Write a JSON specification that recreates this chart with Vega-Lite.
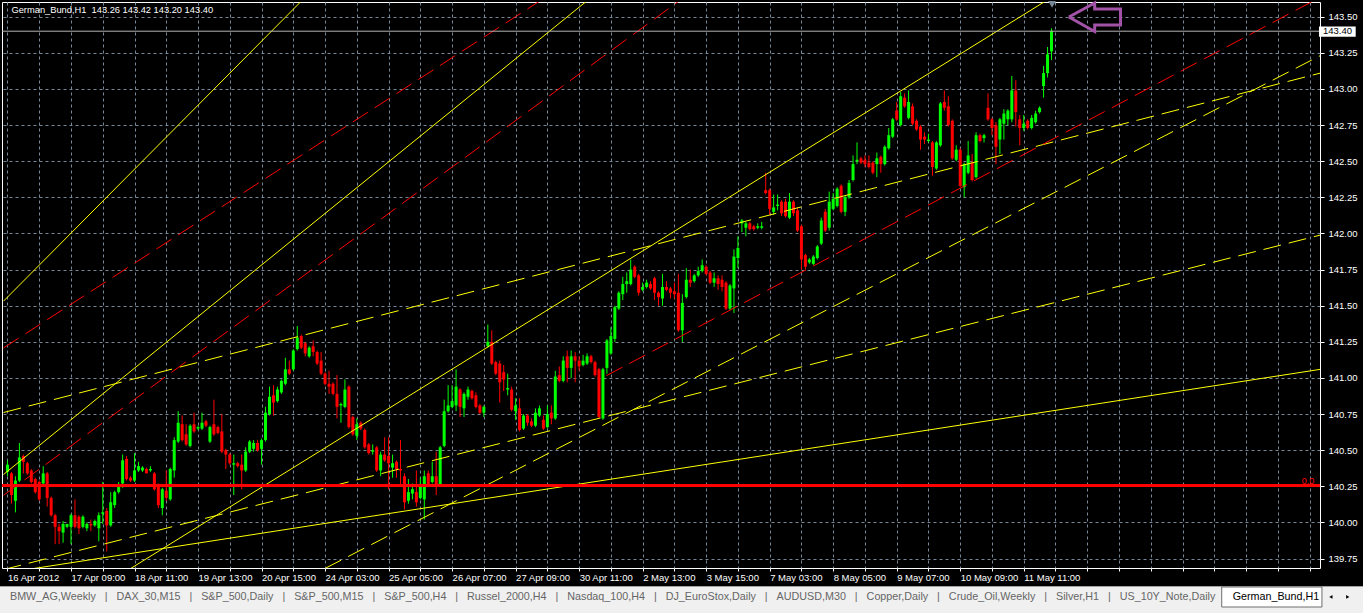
{
  "$schema": "https://vega.github.io/schema/vega-lite/v6.json",
  "autosize": "none",
  "width": 1318,
  "height": 566,
  "padding": {"left": 2, "top": 2, "right": 43, "bottom": 45},
  "background": "#000000",
  "config": {
    "font": "Liberation Sans",
    "view": {"stroke": "#ffffff", "strokeWidth": 1, "fill": "#000000"}
  },
  "resolve": {"axis": {"x": "independent", "y": "independent"}},
  "data": {"values": [{}]},
  "datasets": {
    "bars": [
      {"i":0,"o":140.35,"h":140.43,"l":140.32,"c":140.40},
      {"i":1,"o":140.34,"h":140.35,"l":140.13,"c":140.19},
      {"i":2,"o":140.15,"h":140.32,"l":140.07,"c":140.29},
      {"i":3,"o":140.29,"h":140.55,"l":140.28,"c":140.45},
      {"i":4,"o":140.46,"h":140.47,"l":140.34,"c":140.42},
      {"i":5,"o":140.41,"h":140.42,"l":140.33,"c":140.34},
      {"i":6,"o":140.36,"h":140.37,"l":140.27,"c":140.28},
      {"i":7,"o":140.30,"h":140.31,"l":140.20,"c":140.21},
      {"i":8,"o":140.28,"h":140.29,"l":140.15,"c":140.16},
      {"i":9,"o":140.27,"h":140.39,"l":140.26,"c":140.34},
      {"i":10,"o":140.34,"h":140.35,"l":140.11,"c":140.17},
      {"i":11,"o":140.17,"h":140.18,"l":140.04,"c":140.05},
      {"i":12,"o":140.05,"h":140.06,"l":139.85,"c":139.97},
      {"i":13,"o":139.97,"h":139.99,"l":139.85,"c":139.94},
      {"i":14,"o":139.93,"h":140.01,"l":139.86,"c":139.99},
      {"i":15,"o":139.97,"h":139.99,"l":139.96,"c":139.99},
      {"i":16,"o":139.97,"h":140.06,"l":139.85,"c":140.05},
      {"i":17,"o":140.05,"h":140.16,"l":139.96,"c":139.97},
      {"i":18,"o":140.04,"h":140.05,"l":139.92,"c":139.96},
      {"i":19,"o":139.97,"h":140.05,"l":139.96,"c":140.04},
      {"i":20,"o":139.96,"h":140.00,"l":139.94,"c":139.99},
      {"i":21,"o":139.99,"h":140.02,"l":139.94,"c":139.98},
      {"i":22,"o":139.98,"h":140.02,"l":139.97,"c":140.01},
      {"i":23,"o":139.96,"h":140.07,"l":139.87,"c":140.05},
      {"i":24,"o":140.06,"h":140.28,"l":139.99,"c":140.07},
      {"i":25,"o":140.08,"h":140.10,"l":139.80,"c":139.98},
      {"i":26,"o":139.98,"h":140.21,"l":139.97,"c":140.14},
      {"i":27,"o":140.12,"h":140.22,"l":140.10,"c":140.21},
      {"i":28,"o":140.21,"h":140.28,"l":140.20,"c":140.26},
      {"i":29,"o":140.27,"h":140.47,"l":140.24,"c":140.43},
      {"i":30,"o":140.44,"h":140.46,"l":140.29,"c":140.30},
      {"i":31,"o":140.31,"h":140.32,"l":140.28,"c":140.29},
      {"i":32,"o":140.29,"h":140.48,"l":140.28,"c":140.36},
      {"i":33,"o":140.36,"h":140.42,"l":140.35,"c":140.39},
      {"i":34,"o":140.36,"h":140.39,"l":140.35,"c":140.38},
      {"i":35,"o":140.37,"h":140.38,"l":140.34,"c":140.34},
      {"i":36,"o":140.36,"h":140.39,"l":140.35,"c":140.37},
      {"i":37,"o":140.34,"h":140.35,"l":140.22,"c":140.23},
      {"i":38,"o":140.25,"h":140.27,"l":140.10,"c":140.12},
      {"i":39,"o":140.10,"h":140.24,"l":140.05,"c":140.23},
      {"i":40,"o":140.22,"h":140.36,"l":140.15,"c":140.17},
      {"i":41,"o":140.16,"h":140.38,"l":140.15,"c":140.37},
      {"i":42,"o":140.36,"h":140.59,"l":140.31,"c":140.57},
      {"i":43,"o":140.56,"h":140.77,"l":140.55,"c":140.69},
      {"i":44,"o":140.68,"h":140.74,"l":140.56,"c":140.57},
      {"i":45,"o":140.61,"h":140.68,"l":140.53,"c":140.54},
      {"i":46,"o":140.53,"h":140.68,"l":140.52,"c":140.67},
      {"i":47,"o":140.68,"h":140.76,"l":140.62,"c":140.63},
      {"i":48,"o":140.65,"h":140.67,"l":140.64,"c":140.66},
      {"i":49,"o":140.65,"h":140.76,"l":140.64,"c":140.69},
      {"i":50,"o":140.70,"h":140.71,"l":140.66,"c":140.67},
      {"i":51,"o":140.56,"h":140.67,"l":140.55,"c":140.66},
      {"i":52,"o":140.68,"h":140.85,"l":140.60,"c":140.61},
      {"i":53,"o":140.66,"h":140.67,"l":140.61,"c":140.62},
      {"i":54,"o":140.63,"h":140.75,"l":140.48,"c":140.49},
      {"i":55,"o":140.50,"h":140.51,"l":140.37,"c":140.47},
      {"i":56,"o":140.47,"h":140.48,"l":140.40,"c":140.41},
      {"i":57,"o":140.40,"h":140.47,"l":140.19,"c":140.41},
      {"i":58,"o":140.41,"h":140.42,"l":140.38,"c":140.39},
      {"i":59,"o":140.40,"h":140.47,"l":140.23,"c":140.36},
      {"i":60,"o":140.36,"h":140.52,"l":140.35,"c":140.49},
      {"i":61,"o":140.49,"h":140.57,"l":140.48,"c":140.56},
      {"i":62,"o":140.51,"h":140.57,"l":140.49,"c":140.55},
      {"i":63,"o":140.55,"h":140.57,"l":140.49,"c":140.50},
      {"i":64,"o":140.51,"h":140.58,"l":140.40,"c":140.57},
      {"i":65,"o":140.57,"h":140.80,"l":140.56,"c":140.76},
      {"i":66,"o":140.75,"h":140.94,"l":140.74,"c":140.87},
      {"i":67,"o":140.88,"h":140.95,"l":140.74,"c":140.83},
      {"i":68,"o":140.84,"h":140.94,"l":140.83,"c":140.92},
      {"i":69,"o":140.90,"h":140.99,"l":140.89,"c":140.98},
      {"i":70,"o":140.96,"h":141.14,"l":140.95,"c":141.06},
      {"i":71,"o":141.06,"h":141.12,"l":141.02,"c":141.03},
      {"i":72,"o":141.06,"h":141.20,"l":141.05,"c":141.19},
      {"i":73,"o":141.20,"h":141.36,"l":141.19,"c":141.28},
      {"i":74,"o":141.29,"h":141.30,"l":141.20,"c":141.21},
      {"i":75,"o":141.24,"h":141.25,"l":141.15,"c":141.17},
      {"i":76,"o":141.15,"h":141.22,"l":141.14,"c":141.21},
      {"i":77,"o":141.22,"h":141.26,"l":141.15,"c":141.18},
      {"i":78,"o":141.18,"h":141.19,"l":141.09,"c":141.10},
      {"i":79,"o":141.12,"h":141.18,"l":141.02,"c":141.03},
      {"i":80,"o":141.03,"h":141.04,"l":140.95,"c":140.96},
      {"i":81,"o":140.96,"h":141.05,"l":140.89,"c":140.94},
      {"i":82,"o":140.96,"h":140.97,"l":140.88,"c":140.89},
      {"i":83,"o":140.89,"h":141.02,"l":140.72,"c":140.80},
      {"i":84,"o":140.81,"h":140.83,"l":140.69,"c":140.82},
      {"i":85,"o":140.80,"h":140.99,"l":140.79,"c":140.92},
      {"i":86,"o":140.94,"h":140.95,"l":140.65,"c":140.66},
      {"i":87,"o":140.73,"h":140.74,"l":140.60,"c":140.61},
      {"i":88,"o":140.60,"h":140.72,"l":140.57,"c":140.68},
      {"i":89,"o":140.69,"h":140.70,"l":140.64,"c":140.65},
      {"i":90,"o":140.64,"h":140.65,"l":140.51,"c":140.52},
      {"i":91,"o":140.54,"h":140.55,"l":140.47,"c":140.48},
      {"i":92,"o":140.49,"h":140.54,"l":140.47,"c":140.50},
      {"i":93,"o":140.52,"h":140.53,"l":140.35,"c":140.36},
      {"i":94,"o":140.36,"h":140.49,"l":140.32,"c":140.47},
      {"i":95,"o":140.47,"h":140.59,"l":140.42,"c":140.43},
      {"i":96,"o":140.46,"h":140.59,"l":140.23,"c":140.41},
      {"i":97,"o":140.38,"h":140.47,"l":140.31,"c":140.41},
      {"i":98,"o":140.42,"h":140.43,"l":140.31,"c":140.37},
      {"i":99,"o":140.37,"h":140.57,"l":140.26,"c":140.36},
      {"i":100,"o":140.32,"h":140.34,"l":140.09,"c":140.14},
      {"i":101,"o":140.15,"h":140.30,"l":140.13,"c":140.21},
      {"i":102,"o":140.20,"h":140.27,"l":140.16,"c":140.23},
      {"i":103,"o":140.21,"h":140.36,"l":140.11,"c":140.14},
      {"i":104,"o":140.17,"h":140.31,"l":140.16,"c":140.26},
      {"i":105,"o":140.16,"h":140.36,"l":140.02,"c":140.32},
      {"i":106,"o":140.34,"h":140.36,"l":140.25,"c":140.26},
      {"i":107,"o":140.28,"h":140.42,"l":140.27,"c":140.32},
      {"i":108,"o":140.32,"h":140.49,"l":140.19,"c":140.26},
      {"i":109,"o":140.26,"h":140.53,"l":140.25,"c":140.52},
      {"i":110,"o":140.53,"h":140.85,"l":140.52,"c":140.77},
      {"i":111,"o":140.77,"h":140.95,"l":140.76,"c":140.81},
      {"i":112,"o":140.80,"h":140.95,"l":140.79,"c":140.84},
      {"i":113,"o":140.81,"h":141.06,"l":140.77,"c":140.94},
      {"i":114,"o":140.92,"h":140.93,"l":140.73,"c":140.80},
      {"i":115,"o":140.79,"h":140.90,"l":140.73,"c":140.89},
      {"i":116,"o":140.87,"h":140.94,"l":140.85,"c":140.92},
      {"i":117,"o":140.91,"h":140.92,"l":140.85,"c":140.86},
      {"i":118,"o":140.88,"h":140.90,"l":140.79,"c":140.80},
      {"i":119,"o":140.81,"h":140.82,"l":140.75,"c":140.76},
      {"i":120,"o":140.76,"h":140.81,"l":140.73,"c":140.80},
      {"i":121,"o":141.22,"h":141.37,"l":141.21,"c":141.25},
      {"i":122,"o":141.25,"h":141.33,"l":141.09,"c":141.10},
      {"i":123,"o":141.11,"h":141.12,"l":141.02,"c":141.03},
      {"i":124,"o":141.10,"h":141.12,"l":140.83,"c":140.97},
      {"i":125,"o":141.04,"h":141.09,"l":140.91,"c":140.99},
      {"i":126,"o":140.92,"h":141.03,"l":140.88,"c":140.93},
      {"i":127,"o":140.92,"h":140.94,"l":140.77,"c":140.78},
      {"i":128,"o":140.77,"h":140.86,"l":140.71,"c":140.81},
      {"i":129,"o":140.79,"h":140.86,"l":140.63,"c":140.64},
      {"i":130,"o":140.65,"h":140.75,"l":140.64,"c":140.74},
      {"i":131,"o":140.74,"h":140.75,"l":140.67,"c":140.69},
      {"i":132,"o":140.70,"h":140.72,"l":140.66,"c":140.67},
      {"i":133,"o":140.67,"h":140.79,"l":140.66,"c":140.76},
      {"i":134,"o":140.74,"h":140.81,"l":140.73,"c":140.79},
      {"i":135,"o":140.71,"h":140.74,"l":140.64,"c":140.65},
      {"i":136,"o":140.66,"h":140.81,"l":140.65,"c":140.75},
      {"i":137,"o":140.76,"h":140.81,"l":140.68,"c":140.72},
      {"i":138,"o":140.72,"h":141.05,"l":140.71,"c":141.01},
      {"i":139,"o":141.02,"h":141.08,"l":140.97,"c":140.98},
      {"i":140,"o":140.98,"h":141.15,"l":140.97,"c":141.12},
      {"i":141,"o":141.15,"h":141.19,"l":140.97,"c":141.07},
      {"i":142,"o":141.07,"h":141.19,"l":141.00,"c":141.15},
      {"i":143,"o":141.15,"h":141.18,"l":140.97,"c":141.12},
      {"i":144,"o":141.12,"h":141.15,"l":141.05,"c":141.08},
      {"i":145,"o":141.09,"h":141.16,"l":141.08,"c":141.12},
      {"i":146,"o":141.10,"h":141.17,"l":141.09,"c":141.15},
      {"i":147,"o":141.15,"h":141.16,"l":141.10,"c":141.11},
      {"i":148,"o":141.11,"h":141.12,"l":141.01,"c":141.02},
      {"i":149,"o":141.06,"h":141.07,"l":140.72,"c":140.73},
      {"i":150,"o":140.72,"h":141.07,"l":140.71,"c":141.06},
      {"i":151,"o":141.07,"h":141.27,"l":141.03,"c":141.26},
      {"i":152,"o":141.17,"h":141.35,"l":141.16,"c":141.29},
      {"i":153,"o":141.27,"h":141.50,"l":141.25,"c":141.49},
      {"i":154,"o":141.48,"h":141.60,"l":141.47,"c":141.59},
      {"i":155,"o":141.58,"h":141.70,"l":141.54,"c":141.65},
      {"i":156,"o":141.65,"h":141.73,"l":141.59,"c":141.67},
      {"i":157,"o":141.65,"h":141.82,"l":141.64,"c":141.75},
      {"i":158,"o":141.77,"h":141.78,"l":141.69,"c":141.70},
      {"i":159,"o":141.71,"h":141.72,"l":141.57,"c":141.59},
      {"i":160,"o":141.61,"h":141.66,"l":141.60,"c":141.63},
      {"i":161,"o":141.63,"h":141.68,"l":141.62,"c":141.66},
      {"i":162,"o":141.65,"h":141.67,"l":141.61,"c":141.62},
      {"i":163,"o":141.69,"h":141.70,"l":141.54,"c":141.59},
      {"i":164,"o":141.59,"h":141.60,"l":141.50,"c":141.56},
      {"i":165,"o":141.55,"h":141.72,"l":141.50,"c":141.63},
      {"i":166,"o":141.63,"h":141.67,"l":141.60,"c":141.61},
      {"i":167,"o":141.62,"h":141.63,"l":141.55,"c":141.59},
      {"i":168,"o":141.60,"h":141.66,"l":141.55,"c":141.58},
      {"i":169,"o":141.59,"h":141.72,"l":141.32,"c":141.33},
      {"i":170,"o":141.33,"h":141.58,"l":141.25,"c":141.52},
      {"i":171,"o":141.56,"h":141.76,"l":141.55,"c":141.68},
      {"i":172,"o":141.68,"h":141.75,"l":141.63,"c":141.66},
      {"i":173,"o":141.67,"h":141.72,"l":141.66,"c":141.71},
      {"i":174,"o":141.71,"h":141.77,"l":141.70,"c":141.74},
      {"i":175,"o":141.74,"h":141.82,"l":141.73,"c":141.78},
      {"i":176,"o":141.77,"h":141.78,"l":141.71,"c":141.72},
      {"i":177,"o":141.73,"h":141.74,"l":141.65,"c":141.66},
      {"i":178,"o":141.66,"h":141.73,"l":141.63,"c":141.69},
      {"i":179,"o":141.69,"h":141.71,"l":141.61,"c":141.65},
      {"i":180,"o":141.68,"h":141.71,"l":141.60,"c":141.63},
      {"i":181,"o":141.66,"h":141.67,"l":141.47,"c":141.48},
      {"i":182,"o":141.48,"h":141.65,"l":141.47,"c":141.64},
      {"i":183,"o":141.62,"h":141.89,"l":141.45,"c":141.84},
      {"i":184,"o":141.83,"h":141.98,"l":141.76,"c":141.90},
      {"i":185,"o":142.07,"h":142.10,"l":142.01,"c":142.09},
      {"i":186,"o":142.04,"h":142.08,"l":141.98,"c":142.07},
      {"i":187,"o":142.07,"h":142.08,"l":142.02,"c":142.03},
      {"i":188,"o":142.05,"h":142.06,"l":142.02,"c":142.03},
      {"i":189,"o":142.04,"h":142.07,"l":142.03,"c":142.05},
      {"i":190,"o":142.04,"h":142.08,"l":142.03,"c":142.05},
      {"i":191,"o":142.30,"h":142.42,"l":142.27,"c":142.28},
      {"i":192,"o":142.30,"h":142.31,"l":142.13,"c":142.17},
      {"i":193,"o":142.15,"h":142.27,"l":142.13,"c":142.18},
      {"i":194,"o":142.19,"h":142.27,"l":142.16,"c":142.20},
      {"i":195,"o":142.22,"h":142.23,"l":142.12,"c":142.14},
      {"i":196,"o":142.22,"h":142.24,"l":142.11,"c":142.12},
      {"i":197,"o":142.11,"h":142.28,"l":142.10,"c":142.22},
      {"i":198,"o":142.22,"h":142.23,"l":142.12,"c":142.14},
      {"i":199,"o":142.16,"h":142.18,"l":142.01,"c":142.02},
      {"i":200,"o":142.05,"h":142.06,"l":141.75,"c":141.82},
      {"i":201,"o":141.85,"h":141.86,"l":141.75,"c":141.77},
      {"i":202,"o":141.80,"h":141.83,"l":141.79,"c":141.82},
      {"i":203,"o":141.79,"h":141.85,"l":141.78,"c":141.84},
      {"i":204,"o":141.83,"h":141.92,"l":141.82,"c":141.91},
      {"i":205,"o":141.93,"h":142.11,"l":141.92,"c":142.09},
      {"i":206,"o":142.15,"h":142.17,"l":142.01,"c":142.02},
      {"i":207,"o":142.04,"h":142.29,"l":142.02,"c":142.22},
      {"i":208,"o":142.17,"h":142.28,"l":142.16,"c":142.24},
      {"i":209,"o":142.19,"h":142.32,"l":142.18,"c":142.31},
      {"i":210,"o":142.33,"h":142.34,"l":142.14,"c":142.15},
      {"i":211,"o":142.15,"h":142.26,"l":142.12,"c":142.25},
      {"i":212,"o":142.25,"h":142.37,"l":142.24,"c":142.35},
      {"i":213,"o":142.37,"h":142.54,"l":142.36,"c":142.48},
      {"i":214,"o":142.50,"h":142.63,"l":142.48,"c":142.51},
      {"i":215,"o":142.52,"h":142.53,"l":142.48,"c":142.49},
      {"i":216,"o":142.51,"h":142.54,"l":142.46,"c":142.48},
      {"i":217,"o":142.49,"h":142.54,"l":142.45,"c":142.46},
      {"i":218,"o":142.49,"h":142.50,"l":142.41,"c":142.42},
      {"i":219,"o":142.48,"h":142.56,"l":142.39,"c":142.52},
      {"i":220,"o":142.53,"h":142.54,"l":142.42,"c":142.48},
      {"i":221,"o":142.48,"h":142.61,"l":142.47,"c":142.60},
      {"i":222,"o":142.59,"h":142.73,"l":142.58,"c":142.68},
      {"i":223,"o":142.67,"h":142.80,"l":142.66,"c":142.79},
      {"i":224,"o":142.85,"h":142.91,"l":142.78,"c":142.79},
      {"i":225,"o":142.75,"h":142.98,"l":142.74,"c":142.95},
      {"i":226,"o":142.94,"h":142.97,"l":142.87,"c":142.88},
      {"i":227,"o":142.80,"h":142.99,"l":142.79,"c":142.91},
      {"i":228,"o":142.88,"h":142.90,"l":142.75,"c":142.76},
      {"i":229,"o":142.78,"h":142.79,"l":142.71,"c":142.72},
      {"i":230,"o":142.74,"h":142.75,"l":142.58,"c":142.65},
      {"i":231,"o":142.67,"h":142.70,"l":142.62,"c":142.65},
      {"i":232,"o":142.64,"h":142.69,"l":142.63,"c":142.65},
      {"i":233,"o":142.63,"h":142.64,"l":142.40,"c":142.46},
      {"i":234,"o":142.45,"h":142.64,"l":142.44,"c":142.63},
      {"i":235,"o":142.61,"h":142.91,"l":142.60,"c":142.90},
      {"i":236,"o":142.91,"h":142.99,"l":142.85,"c":142.87},
      {"i":237,"o":142.88,"h":142.95,"l":142.74,"c":142.75},
      {"i":238,"o":142.78,"h":142.79,"l":142.51,"c":142.52},
      {"i":239,"o":142.51,"h":142.61,"l":142.50,"c":142.58},
      {"i":240,"o":142.58,"h":142.59,"l":142.32,"c":142.33},
      {"i":241,"o":142.32,"h":142.49,"l":142.25,"c":142.48},
      {"i":242,"o":142.42,"h":142.64,"l":142.41,"c":142.54},
      {"i":243,"o":142.49,"h":142.55,"l":142.36,"c":142.37},
      {"i":244,"o":142.39,"h":142.70,"l":142.38,"c":142.68},
      {"i":245,"o":142.68,"h":142.69,"l":142.63,"c":142.64},
      {"i":246,"o":142.66,"h":142.69,"l":142.63,"c":142.68},
      {"i":247,"o":142.87,"h":142.97,"l":142.78,"c":142.79},
      {"i":248,"o":142.79,"h":142.80,"l":142.68,"c":142.73},
      {"i":249,"o":142.75,"h":142.77,"l":142.48,"c":142.60},
      {"i":250,"o":142.65,"h":142.80,"l":142.55,"c":142.79},
      {"i":251,"o":142.76,"h":142.86,"l":142.65,"c":142.83},
      {"i":252,"o":142.79,"h":142.86,"l":142.75,"c":142.85},
      {"i":253,"o":142.79,"h":143.09,"l":142.77,"c":142.99},
      {"i":254,"o":142.99,"h":143.06,"l":142.74,"c":142.84},
      {"i":255,"o":142.79,"h":142.82,"l":142.61,"c":142.73},
      {"i":256,"o":142.73,"h":142.82,"l":142.71,"c":142.76},
      {"i":257,"o":142.78,"h":142.79,"l":142.72,"c":142.73},
      {"i":258,"o":142.73,"h":142.82,"l":142.72,"c":142.80},
      {"i":259,"o":142.77,"h":142.85,"l":142.76,"c":142.83},
      {"i":260,"o":142.84,"h":142.88,"l":142.83,"c":142.87},
      {"i":261,"o":143.02,"h":143.16,"l":142.94,"c":143.11},
      {"i":262,"o":143.11,"h":143.29,"l":143.08,"c":143.24},
      {"i":263,"o":143.26,"h":143.42,"l":143.20,"c":143.40}
    ],
    "lines": [
      {"kind":"trend","id":"L1","i":-1,"p":141.532},
      {"kind":"trend","id":"L1","i":75,"p":143.635},
      {"kind":"trend","id":"L2","i":-1,"p":140.332},
      {"kind":"trend","id":"L2","i":147,"p":143.633},
      {"kind":"trend","id":"L3","i":30,"p":139.664},
      {"kind":"trend","id":"L3","i":262,"p":143.617},
      {"kind":"trend","id":"L4","i":-1,"p":139.649},
      {"kind":"trend","id":"L4","i":331,"p":141.061},
      {"kind":"parallel","id":"D1","i":-1,"p":140.761},
      {"kind":"parallel","id":"D1","i":331,"p":143.112},
      {"kind":"parallel","id":"D2","i":80,"p":139.682},
      {"kind":"parallel","id":"D2","i":331,"p":143.235},
      {"kind":"parallel","id":"D3","i":-1,"p":139.674},
      {"kind":"parallel","id":"D3","i":331,"p":141.991},
      {"kind":"fibo","id":"R1","i":-1,"p":141.208},
      {"kind":"fibo","id":"R1","i":136,"p":143.643},
      {"kind":"fibo","id":"R2","i":-1,"p":140.188},
      {"kind":"fibo","id":"R2","i":171,"p":143.646},
      {"kind":"fibo","id":"R3","i":150.875,"p":141.016},
      {"kind":"fibo","id":"R3","i":331,"p":143.639}
    ],
    "arrow": [
      {"k":0,"i":267.375,"p":143.498},
      {"k":1,"i":273.875,"p":143.595},
      {"k":2,"i":273.875,"p":143.554},
      {"k":3,"i":280.375,"p":143.554},
      {"k":4,"i":280.375,"p":143.443},
      {"k":5,"i":273.875,"p":143.443},
      {"k":6,"i":273.875,"p":143.398},
      {"k":7,"i":267.375,"p":143.498}
    ]
  },
  "layer": [
    {
      "data": {"name": "bars"},
      "mark": {"type": "rule", "strokeWidth": 1},
      "encoding": {
        "x": {
          "field": "i", "type": "quantitative",
          "scale": {"domain": [-0.125, 329.375], "nice": false, "zero": false},
          "axis": {
            "orient": "bottom",
            "values": [0,8,16,24,32,40,48,56,64,72,80,88,96,104,112,120,128,136,144,152,160,168,176,184,192,200,208,216,224,232,240,248,256,264,272,280,288,296,304,312,320,328],
            "grid": true, "gridColor": "#778899", "gridDash": [3, 3], "gridWidth": 1,
            "domain": false,
            "tickColor": "#ffffff", "tickSize": 3,
            "labelExpr": "datum.value % 16 === 0 ? (['16 Apr 2012','17 Apr 09:00','18 Apr 11:00','19 Apr 13:00','20 Apr 15:00','24 Apr 03:00','25 Apr 05:00','26 Apr 07:00','27 Apr 09:00','30 Apr 11:00','2 May 13:00','3 May 15:00','7 May 03:00','8 May 05:00','9 May 07:00','10 May 09:00','11 May 11:00'][datum.value / 16] || '') : ''",
            "labelAlign": "left", "labelBaseline": "top", "labelColor": "#ffffff",
            "labelFont": "Liberation Sans", "labelFontSize": 9.5, "labelPadding": 1,
            "labelFlush": false, "labelOverlap": false, "labelBound": false,
            "title": null, "minExtent": 18, "maxExtent": 18
          }
        },
        "y": {
          "field": "l", "type": "quantitative",
          "scale": {"domain": [139.685, 143.602], "nice": false, "zero": false},
          "axis": {
            "orient": "right",
            "values": [139.75,140,140.25,140.5,140.75,141,141.25,141.5,141.75,142,142.25,142.5,142.75,143,143.25,143.5],
            "format": ".2f",
            "grid": true, "gridColor": "#778899", "gridDash": [3, 3], "gridWidth": 1,
            "domain": false,
            "tickColor": "#ffffff", "tickSize": 4,
            "labelColor": "#ffffff", "labelFont": "Liberation Sans", "labelFontSize": 9.5,
            "labelPadding": 4, "labelBaseline": "middle",
            "title": null, "minExtent": 43, "maxExtent": 43
          }
        },
        "y2": {"field": "h"},
        "color": {"condition": {"test": "datum.c >= datum.o", "value": "#00ff00"}, "value": "#ff0000"}
      }
    },
    {
      "data": {"name": "bars"},
      "mark": {"type": "bar", "size": 3},
      "encoding": {
        "x": {"field": "i", "type": "quantitative", "scale": {"domain": [-0.125, 329.375], "nice": false, "zero": false}, "axis": null},
        "y": {"field": "o", "type": "quantitative", "scale": {"domain": [139.685, 143.602], "nice": false, "zero": false}, "axis": null},
        "y2": {"field": "c"},
        "color": {"condition": {"test": "datum.c >= datum.o", "value": "#00ff00"}, "value": "#ff0000"}
      }
    },
    {
      "data": {"name": "lines"},
      "transform": [{"filter": "datum.kind === 'trend'"}],
      "mark": {"type": "line", "clip": true, "strokeWidth": 1, "color": "#ffff00"},
      "encoding": {
        "x": {"field": "i", "type": "quantitative", "scale": {"domain": [-0.125, 329.375], "nice": false, "zero": false}, "axis": null},
        "y": {"field": "p", "type": "quantitative", "scale": {"domain": [139.685, 143.602], "nice": false, "zero": false}, "axis": null},
        "detail": {"field": "id"}
      }
    },
    {
      "data": {"name": "lines"},
      "transform": [{"filter": "datum.kind === 'parallel'"}],
      "mark": {"type": "line", "clip": true, "strokeWidth": 1, "color": "#ffff00", "strokeDash": [18, 8]},
      "encoding": {
        "x": {"field": "i", "type": "quantitative", "scale": {"domain": [-0.125, 329.375], "nice": false, "zero": false}, "axis": null},
        "y": {"field": "p", "type": "quantitative", "scale": {"domain": [139.685, 143.602], "nice": false, "zero": false}, "axis": null},
        "detail": {"field": "id"}
      }
    },
    {
      "data": {"name": "lines"},
      "transform": [{"filter": "datum.kind === 'fibo'"}],
      "mark": {"type": "line", "clip": true, "strokeWidth": 1, "color": "#ff0000", "strokeDash": [18, 8]},
      "encoding": {
        "x": {"field": "i", "type": "quantitative", "scale": {"domain": [-0.125, 329.375], "nice": false, "zero": false}, "axis": null},
        "y": {"field": "p", "type": "quantitative", "scale": {"domain": [139.685, 143.602], "nice": false, "zero": false}, "axis": null},
        "detail": {"field": "id"}
      }
    },
    {
      "mark": {"type": "rule", "color": "#ff0000", "strokeWidth": 3},
      "encoding": {
        "y": {"datum": 140.256, "type": "quantitative", "scale": {"domain": [139.685, 143.602], "nice": false, "zero": false}, "axis": null}
      }
    },
    {
      "mark": {"type": "text", "text": "0.0", "color": "#ff0000", "fontSize": 9, "align": "right", "baseline": "middle"},
      "encoding": {
        "x": {"datum": 329.2, "type": "quantitative", "scale": {"domain": [-0.125, 329.375], "nice": false, "zero": false}, "axis": null},
        "y": {"datum": 140.285, "type": "quantitative", "scale": {"domain": [139.685, 143.602], "nice": false, "zero": false}, "axis": null}
      }
    },
    {
      "mark": {"type": "rule", "color": "#b4b4b4", "strokeWidth": 1},
      "encoding": {
        "y": {"datum": 143.40, "type": "quantitative", "scale": {"domain": [139.685, 143.602], "nice": false, "zero": false}, "axis": null}
      }
    },
    {
      "mark": {"type": "text", "text": "German_Bund,H1\u00a0\u00a0143.26 143.42 143.20 143.40", "color": "#ffffff", "fontSize": 9.3, "align": "left", "baseline": "middle"},
      "encoding": {
        "x": {"datum": 1, "type": "quantitative", "scale": {"domain": [-0.125, 329.375], "nice": false, "zero": false}, "axis": null},
        "y": {"datum": 143.55, "type": "quantitative", "scale": {"domain": [139.685, 143.602], "nice": false, "zero": false}, "axis": null}
      }
    },
    {
      "mark": {"type": "point", "shape": "triangle-down", "filled": true, "color": "#778899", "size": 60, "opacity": 1},
      "encoding": {
        "x": {"datum": 263.125, "type": "quantitative", "scale": {"domain": [-0.125, 329.375], "nice": false, "zero": false}, "axis": null},
        "y": {"datum": 143.585, "type": "quantitative", "scale": {"domain": [139.685, 143.602], "nice": false, "zero": false}, "axis": null}
      }
    },
    {
      "data": {"name": "arrow"},
      "mark": {"type": "line", "color": "#a253a8", "strokeWidth": 3, "strokeJoin": "miter"},
      "encoding": {
        "x": {"field": "i", "type": "quantitative", "scale": {"domain": [-0.125, 329.375], "nice": false, "zero": false}, "axis": null},
        "y": {"field": "p", "type": "quantitative", "scale": {"domain": [139.685, 143.602], "nice": false, "zero": false}, "axis": null},
        "order": {"field": "k"}
      }
    },
    {
      "mark": {"type": "rect", "color": "#ffffff"},
      "encoding": {
        "x": {"datum": 330.375, "type": "quantitative", "scale": {"domain": [-0.125, 329.375], "nice": false, "zero": false}, "axis": null},
        "x2": {"datum": 339.625},
        "y": {"datum": 143.432, "type": "quantitative", "scale": {"domain": [139.685, 143.602], "nice": false, "zero": false}, "axis": null},
        "y2": {"datum": 143.362}
      }
    },
    {
      "mark": {"type": "text", "text": "143.40", "color": "#000000", "fontSize": 9.5, "align": "left", "baseline": "middle"},
      "encoding": {
        "x": {"datum": 331.375, "type": "quantitative", "scale": {"domain": [-0.125, 329.375], "nice": false, "zero": false}, "axis": null},
        "y": {"datum": 143.40, "type": "quantitative", "scale": {"domain": [139.685, 143.602], "nice": false, "zero": false}, "axis": null}
      }
    },
    {
      "mark": {"type": "rect", "color": "#f0f0f0"},
      "encoding": {
        "x": {"datum": -2, "type": "quantitative", "scale": {"domain": [-0.125, 329.375], "nice": false, "zero": false}, "axis": null},
        "x2": {"datum": 342},
        "y": {"datum": 139.5605, "type": "quantitative", "scale": {"domain": [139.685, 143.602], "nice": false, "zero": false}, "axis": null},
        "y2": {"datum": 139.36}
      }
    },
    {
      "mark": {"type": "rule", "color": "#a0a0a0", "strokeWidth": 1},
      "encoding": {
        "x": {"datum": -2, "type": "quantitative", "scale": {"domain": [-0.125, 329.375], "nice": false, "zero": false}, "axis": null},
        "x2": {"datum": 342},
        "y": {"datum": 139.557, "type": "quantitative", "scale": {"domain": [139.685, 143.602], "nice": false, "zero": false}, "axis": null}
      }
    },
    {
      "mark": {"type": "text", "text": "BMW_AG,Weekly\u00a0\u00a0\u00a0|\u00a0\u00a0\u00a0DAX_30,M15\u00a0\u00a0\u00a0|\u00a0\u00a0\u00a0S&P_500,Daily\u00a0\u00a0\u00a0|\u00a0\u00a0\u00a0S&P_500,M15\u00a0\u00a0\u00a0|\u00a0\u00a0\u00a0S&P_500,H4\u00a0\u00a0\u00a0|\u00a0\u00a0\u00a0Russel_2000,H4\u00a0\u00a0\u00a0|\u00a0\u00a0\u00a0Nasdaq_100,H4\u00a0\u00a0\u00a0|\u00a0\u00a0\u00a0DJ_EuroStox,Daily\u00a0\u00a0\u00a0|\u00a0\u00a0\u00a0AUDUSD,M30\u00a0\u00a0\u00a0|\u00a0\u00a0\u00a0Copper,Daily\u00a0\u00a0\u00a0|\u00a0\u00a0\u00a0Crude_Oil,Weekly\u00a0\u00a0\u00a0|\u00a0\u00a0\u00a0Silver,H1\u00a0\u00a0\u00a0|\u00a0\u00a0\u00a0US_10Y_Note,Daily", "color": "#666666", "fontSize": 10.75, "align": "left", "baseline": "middle"},
      "encoding": {
        "x": {"datum": 0.625, "type": "quantitative", "scale": {"domain": [-0.125, 329.375], "nice": false, "zero": false}, "axis": null},
        "y": {"datum": 139.4844, "type": "quantitative", "scale": {"domain": [139.685, 143.602], "nice": false, "zero": false}, "axis": null}
      }
    },
    {
      "mark": {"type": "rect", "color": "#ffffff", "stroke": "#6e6e6e", "strokeWidth": 1},
      "encoding": {
        "x": {"datum": 305.875, "type": "quantitative", "scale": {"domain": [-0.125, 329.375], "nice": false, "zero": false}, "axis": null},
        "x2": {"datum": 331.125},
        "y": {"datum": 139.5535, "type": "quantitative", "scale": {"domain": [139.685, 143.602], "nice": false, "zero": false}, "axis": null},
        "y2": {"datum": 139.415}
      }
    },
    {
      "mark": {"type": "text", "text": "German_Bund,H1", "color": "#000000", "fontSize": 10.75, "align": "left", "baseline": "middle"},
      "encoding": {
        "x": {"datum": 308.625, "type": "quantitative", "scale": {"domain": [-0.125, 329.375], "nice": false, "zero": false}, "axis": null},
        "y": {"datum": 139.4844, "type": "quantitative", "scale": {"domain": [139.685, 143.602], "nice": false, "zero": false}, "axis": null}
      }
    },
    {
      "mark": {"type": "point", "shape": "triangle-left", "filled": true, "color": "#000000", "size": 14, "opacity": 1},
      "encoding": {
        "x": {"datum": 333.375, "type": "quantitative", "scale": {"domain": [-0.125, 329.375], "nice": false, "zero": false}, "axis": null},
        "y": {"datum": 139.4844, "type": "quantitative", "scale": {"domain": [139.685, 143.602], "nice": false, "zero": false}, "axis": null}
      }
    },
    {
      "mark": {"type": "point", "shape": "triangle-right", "filled": true, "color": "#000000", "size": 14, "opacity": 1},
      "encoding": {
        "x": {"datum": 337.625, "type": "quantitative", "scale": {"domain": [-0.125, 329.375], "nice": false, "zero": false}, "axis": null},
        "y": {"datum": 139.4844, "type": "quantitative", "scale": {"domain": [139.685, 143.602], "nice": false, "zero": false}, "axis": null}
      }
    }
  ]
}
